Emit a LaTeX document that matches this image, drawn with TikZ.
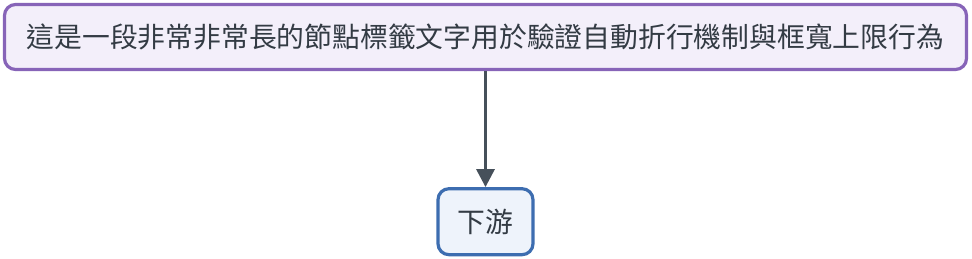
\documentclass[tikz,border=0pt]{standalone}
\usepackage{fontspec}
\newfontfamily\cjk{Noto Sans CJK TC}
\usepackage{tikz}
\usetikzlibrary{arrows.meta, positioning}
\definecolor{purpleline}{HTML}{8764B8}
\definecolor{purplefill}{HTML}{F3EFFA}
\definecolor{blueline}{HTML}{3D6DB0}
\definecolor{bluefill}{HTML}{EEF3FB}
\definecolor{arrowgray}{HTML}{46505A}
\definecolor{txtgray}{HTML}{333B44}
\begin{document}
\begin{tikzpicture}[font=\cjk\fontsize{27.8}{32}\selectfont, node distance=116pt,
    blk/.style={draw, line width=3.2pt, rounded corners=11pt, align=center, text=txtgray, inner sep=0pt},
    arrow/.style={-{Triangle[length=18pt,width=18pt]}, line width=3.2pt, draw=arrowgray}]
    \useasboundingbox (0,0) rectangle (972pt,258pt);
    \node[blk, draw=purpleline, fill=purplefill, minimum width=962pt, minimum height=65pt] (src) at (485.5pt,221pt) {這是一段非常非常長的節點標籤文字用於驗證自動折行機制與框寬上限行為};
    \node[blk, draw=blueline, fill=bluefill, minimum width=95pt, minimum height=66pt, below=of src] (down) {下游};
    \draw[arrow] (src) -- (down);
\end{tikzpicture}
\end{document}
